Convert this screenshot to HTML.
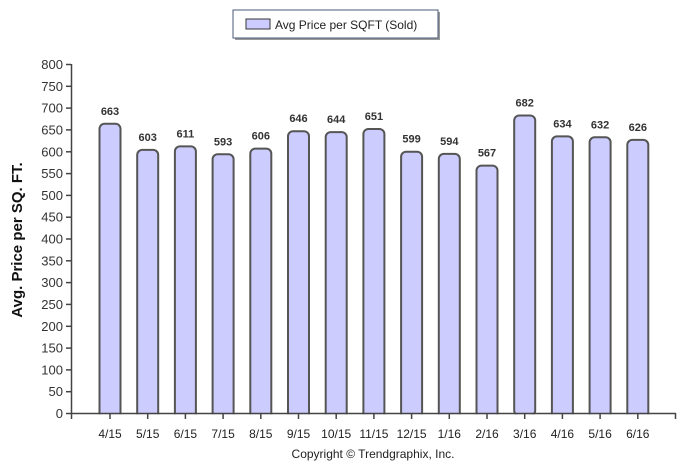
<!DOCTYPE html>
<html><head><meta charset="utf-8"><style>
html,body{margin:0;padding:0;background:#fff;}
svg{display:block;font-family:"Liberation Sans",Arial,sans-serif;}
</style></head><body>
<svg width="695" height="472" viewBox="0 0 695 472" xmlns="http://www.w3.org/2000/svg">
<rect x="235" y="12" width="205" height="28" fill="#999"/>
<rect x="233" y="10" width="205" height="28" fill="#fff" stroke="#4a5a7a" stroke-width="1"/>
<rect x="246" y="19" width="24" height="10" fill="#ccccff" stroke="#333" stroke-width="1"/>
<text x="275" y="29" font-size="12" fill="#222">Avg Price per SQFT (Sold)</text>
<text transform="translate(22,240) rotate(-90)" text-anchor="middle" font-size="15" font-weight="bold" fill="#111">Avg. Price per SQ. FT.</text>

<g fill="#ccccff" stroke="#555" stroke-width="2">
<rect x="99.5" y="123.8" width="21" height="300" rx="5"/>
<rect x="137.2" y="149.9" width="21" height="300" rx="5"/>
<rect x="174.9" y="146.4" width="21" height="300" rx="5"/>
<rect x="212.6" y="154.3" width="21" height="300" rx="5"/>
<rect x="250.3" y="148.6" width="21" height="300" rx="5"/>
<rect x="288" y="131.2" width="21" height="300" rx="5"/>
<rect x="325.7" y="132.1" width="21" height="300" rx="5"/>
<rect x="363.4" y="129" width="21" height="300" rx="5"/>
<rect x="401.1" y="151.7" width="21" height="300" rx="5"/>
<rect x="438.8" y="153.9" width="21" height="300" rx="5"/>
<rect x="476.5" y="165.6" width="21" height="300" rx="5"/>
<rect x="514.2" y="115.5" width="21" height="300" rx="5"/>
<rect x="551.9" y="136.4" width="21" height="300" rx="5"/>
<rect x="589.6" y="137.3" width="21" height="300" rx="5"/>
<rect x="627.3" y="139.9" width="21" height="300" rx="5"/>
</g>
<rect x="60" y="414.3" width="635" height="58" fill="#fff"/>

<g font-size="11" font-weight="bold" fill="#333" text-anchor="middle">
<text x="110" y="114.8">663</text>
<text x="147.7" y="140.9">603</text>
<text x="185.4" y="137.4">611</text>
<text x="223.1" y="145.3">593</text>
<text x="260.8" y="139.6">606</text>
<text x="298.5" y="122.2">646</text>
<text x="336.2" y="123.1">644</text>
<text x="373.9" y="120">651</text>
<text x="411.6" y="142.7">599</text>
<text x="449.3" y="144.9">594</text>
<text x="487" y="156.6">567</text>
<text x="524.7" y="106.5">682</text>
<text x="562.4" y="127.4">634</text>
<text x="600.1" y="128.3">632</text>
<text x="637.8" y="130.9">626</text>
</g>

<g stroke="#444" stroke-width="1.5">
<line x1="71.5" y1="64" x2="71.5" y2="419"/>
<line x1="71" y1="413.5" x2="676" y2="413.5"/>
<line x1="675.5" y1="413" x2="675.5" y2="419"/>
<line x1="66" y1="413.5" x2="71" y2="413.5"/>
<line x1="66" y1="391.7" x2="71" y2="391.7"/>
<line x1="66" y1="369.9" x2="71" y2="369.9"/>
<line x1="66" y1="348.1" x2="71" y2="348.1"/>
<line x1="66" y1="326.3" x2="71" y2="326.3"/>
<line x1="66" y1="304.4" x2="71" y2="304.4"/>
<line x1="66" y1="282.6" x2="71" y2="282.6"/>
<line x1="66" y1="260.8" x2="71" y2="260.8"/>
<line x1="66" y1="239" x2="71" y2="239"/>
<line x1="66" y1="217.2" x2="71" y2="217.2"/>
<line x1="66" y1="195.4" x2="71" y2="195.4"/>
<line x1="66" y1="173.6" x2="71" y2="173.6"/>
<line x1="66" y1="151.8" x2="71" y2="151.8"/>
<line x1="66" y1="129.9" x2="71" y2="129.9"/>
<line x1="66" y1="108.1" x2="71" y2="108.1"/>
<line x1="66" y1="86.3" x2="71" y2="86.3"/>
<line x1="66" y1="64.5" x2="71" y2="64.5"/>
<line x1="110" y1="413" x2="110" y2="419"/>
<line x1="147.7" y1="413" x2="147.7" y2="419"/>
<line x1="185.4" y1="413" x2="185.4" y2="419"/>
<line x1="223.1" y1="413" x2="223.1" y2="419"/>
<line x1="260.8" y1="413" x2="260.8" y2="419"/>
<line x1="298.5" y1="413" x2="298.5" y2="419"/>
<line x1="336.2" y1="413" x2="336.2" y2="419"/>
<line x1="373.9" y1="413" x2="373.9" y2="419"/>
<line x1="411.6" y1="413" x2="411.6" y2="419"/>
<line x1="449.3" y1="413" x2="449.3" y2="419"/>
<line x1="487" y1="413" x2="487" y2="419"/>
<line x1="524.7" y1="413" x2="524.7" y2="419"/>
<line x1="562.4" y1="413" x2="562.4" y2="419"/>
<line x1="600.1" y1="413" x2="600.1" y2="419"/>
<line x1="637.8" y1="413" x2="637.8" y2="419"/>
</g>

<g font-size="13" fill="#333" text-anchor="end">
<text x="63" y="418">0</text>
<text x="63" y="396.2">50</text>
<text x="63" y="374.4">100</text>
<text x="63" y="352.6">150</text>
<text x="63" y="330.8">200</text>
<text x="63" y="308.9">250</text>
<text x="63" y="287.1">300</text>
<text x="63" y="265.3">350</text>
<text x="63" y="243.5">400</text>
<text x="63" y="221.7">450</text>
<text x="63" y="199.9">500</text>
<text x="63" y="178.1">550</text>
<text x="63" y="156.3">600</text>
<text x="63" y="134.4">650</text>
<text x="63" y="112.6">700</text>
<text x="63" y="90.8">750</text>
<text x="63" y="69">800</text>
</g>

<g font-size="12" fill="#222" text-anchor="middle">
<text x="110" y="438">4/15</text>
<text x="147.7" y="438">5/15</text>
<text x="185.4" y="438">6/15</text>
<text x="223.1" y="438">7/15</text>
<text x="260.8" y="438">8/15</text>
<text x="298.5" y="438">9/15</text>
<text x="336.2" y="438">10/15</text>
<text x="373.9" y="438">11/15</text>
<text x="411.6" y="438">12/15</text>
<text x="449.3" y="438">1/16</text>
<text x="487" y="438">2/16</text>
<text x="524.7" y="438">3/16</text>
<text x="562.4" y="438">4/16</text>
<text x="600.1" y="438">5/16</text>
<text x="637.8" y="438">6/16</text>
</g>
<text x="373" y="458" text-anchor="middle" font-size="12" fill="#222">Copyright © Trendgraphix, Inc.</text>
</svg>
</body></html>
